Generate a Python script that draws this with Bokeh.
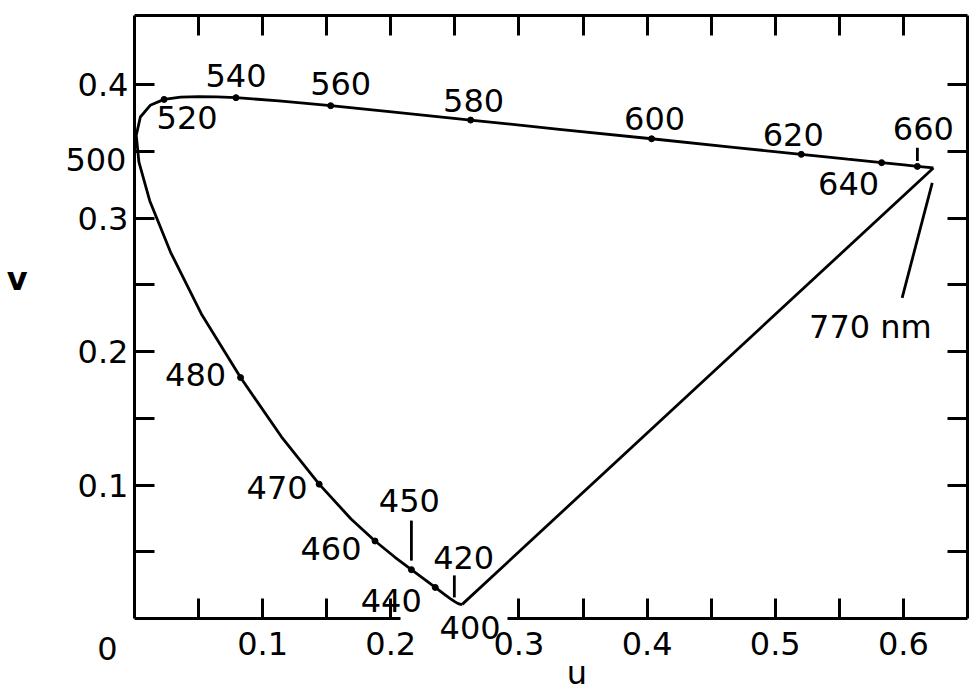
from bokeh.plotting import figure
from bokeh.models import (LinearAxis, FixedTicker, Label, LabelSet, Range1d,
                          ColumnDataSource, CustomLabelingPolicy)
from bokeh.core.properties import value
from bokeh.embed import file_html
from bokeh.resources import INLINE

# ---- data: CIE 1960 UCS spectral locus (u, v) ----
wavelength = [400, 410, 420, 425, 430, 435, 440, 445, 450, 455, 460, 465, 470,
              475, 480, 485, 490, 495, 500, 505, 510, 515, 520, 525, 530, 535,
              540, 550, 560, 570, 580, 590, 600, 610, 620, 630, 640, 650, 660, 770]
u = [0.2557, 0.2545, 0.2522, 0.2496, 0.2461, 0.2411, 0.2347, 0.2266, 0.2161,
     0.2033, 0.1877, 0.1690, 0.1441, 0.1147, 0.0828, 0.0521, 0.0282, 0.0119,
     0.0035, 0.0014, 0.0046, 0.0123, 0.0231, 0.0360, 0.0501, 0.0643, 0.0792,
     0.1127, 0.1531, 0.2026, 0.2623, 0.3315, 0.4035, 0.4692, 0.5203, 0.5565,
     0.5830, 0.6005, 0.6109, 0.6234]
v = [0.0106, 0.0106, 0.0113, 0.0128, 0.0151, 0.0186, 0.0233, 0.0291, 0.0366,
     0.0459, 0.0581, 0.0746, 0.1007, 0.1362, 0.1806, 0.2285, 0.2745, 0.3132,
     0.3420, 0.3621, 0.3759, 0.3847, 0.3891, 0.3908, 0.3912, 0.3910, 0.3904,
     0.3880, 0.3844, 0.3796, 0.3736, 0.3667, 0.3596, 0.3530, 0.3479, 0.3443,
     0.3417, 0.3400, 0.3389, 0.3377]

marked_wl = [440, 450, 460, 470, 480, 520, 540, 560, 580, 600, 620, 640, 660]
labelled_wl = [400, 420, 440, 450, 460, 470, 480, 500, 520, 540, 560, 580,
               600, 620, 640, 660]
end_label = "770 nm"

U_MAX = 0.65
V_MAX = 0.452
x_major_a = [0.1, 0.2]
x_minor_a = [0.05, 0.15]
x_major_b = [0.3, 0.4, 0.5, 0.6]
x_minor_b = [0.35, 0.45, 0.55]
x_top_ticks = [0.05, 0.1, 0.15, 0.2, 0.25, 0.3, 0.35, 0.4, 0.45, 0.5, 0.55, 0.6]
y_major = [0.1, 0.2, 0.3, 0.4]
y_minor = [0.05, 0.15, 0.25, 0.35]
y_right_ticks = [0.05, 0.1, 0.15, 0.2, 0.25, 0.3, 0.35, 0.4]

# ---- layout / style ----
label_offsets = {  # (dx right, dy up) in screen pixels from the locus point
    400: (8, -23), 420: (6, 46), 440: (-44, -13), 450: (-2, 69),
    460: (-44, -8), 470: (-42, -3), 480: (-45, 3), 500: (-43, 3),
    520: (23, -18), 540: (0, 22), 560: (10, 22), 580: (3, 20),
    600: (3, 20), 620: (-8, 20), 640: (-33, -21), 660: (6, 38),
}
FONT = "DejaVu Sans"
FS = "32px"
LW = 2.8

idx = {w: i for i, w in enumerate(wavelength)}

# the viewport extends past the axes box so that every text can be drawn
p = figure(width=969, height=690, output_backend="svg", toolbar_location=None,
           x_range=Range1d(-0.10452, 0.65156), y_range=Range1d(-0.05397, 0.46324),
           x_axis_location=None, y_axis_location=None, min_border=0)
p.grid.visible = False
p.outline_line_color = None
p.background_fill_color = "white"
p.border_fill_color = "white"

HIDE_LABELS = "for (const i of indices) { indices.unset(i) }\nreturn indices"


def make_axis(loc, bounds, major, minor=(), labels=True, standoff=0):
    ax = LinearAxis(fixed_location=loc, bounds=bounds,
                    ticker=FixedTicker(ticks=list(major), minor_ticks=list(minor)))
    ax.axis_line_width = 3
    ax.axis_line_color = "black"
    ax.major_tick_line_width = 3
    ax.major_tick_in = 20
    ax.major_tick_out = 0
    ax.minor_tick_line_width = 3
    ax.minor_tick_in = 20
    ax.minor_tick_out = 0
    ax.major_label_text_font = FONT
    ax.major_label_text_font_size = FS
    ax.major_label_text_color = "black"
    ax.major_label_standoff = standoff
    if not labels:
        ax.major_label_policy = CustomLabelingPolicy(code=HIDE_LABELS)
    return ax


def title_axis(loc, bounds, text, standoff, style):
    ax = LinearAxis(fixed_location=loc, bounds=bounds,
                    ticker=FixedTicker(ticks=[]), axis_label=text)
    ax.axis_line_color = None
    ax.major_tick_line_color = None
    ax.minor_tick_line_color = None
    ax.major_label_policy = CustomLabelingPolicy(code=HIDE_LABELS)
    ax.axis_label_text_font = FONT
    ax.axis_label_text_font_size = FS
    ax.axis_label_text_font_style = style
    ax.axis_label_text_color = "black"
    ax.axis_label_standoff = standoff
    return ax


# bottom axis, broken where the 400 nm label sits
p.add_layout(make_axis(0, (0, 0.2075), x_major_a, x_minor_a, standoff=14), "below")
p.add_layout(make_axis(0, (0.291, U_MAX), x_major_b, x_minor_b, standoff=14), "below")
p.add_layout(make_axis(0, (0, V_MAX), y_major, y_minor, standoff=6), "left")
p.add_layout(make_axis(V_MAX, (0, U_MAX), x_top_ticks, labels=False), "above")
p.add_layout(make_axis(U_MAX, (0, V_MAX), y_right_ticks, labels=False), "right")

ax_u = title_axis(0, (0.041, U_MAX), "u", 35, "normal")
p.add_layout(ax_u, "below")
ax_v = title_axis(0, (0.058, V_MAX), "v", 107, "bold")
ax_v.axis_label_orientation = "horizontal"
p.add_layout(ax_v, "left")

# spectral locus
p.line(u, v, line_color="black", line_width=LW)
# purple line 400 -> 770
p.line([u[0], u[-1]], [v[0], v[-1]], line_color="black", line_width=LW)

# marked points
mu = [u[idx[w]] for w in marked_wl]
mv = [v[idx[w]] for w in marked_wl]
p.scatter(mu, mv, size=6, color="black")

# leader ticks (offsets in data units from the locus point)
leaders = {450: (0.0, 0.0068, 0.0, 0.0368), 420: (-0.0026, 0.0045, -0.0026, 0.021),
           660: (0.0, 0.004, 0.0, 0.014), 770: (-0.0009, -0.0111, -0.0244, -0.0973)}
x0 = [u[idx[w]] + d[0] for w, d in leaders.items()]
y0 = [v[idx[w]] + d[1] for w, d in leaders.items()]
x1 = [u[idx[w]] + d[2] for w, d in leaders.items()]
y1 = [v[idx[w]] + d[3] for w, d in leaders.items()]
p.segment(x0, y0, x1, y1, line_color="black", line_width=LW)

src = ColumnDataSource(dict(
    x=[u[idx[w]] for w in labelled_wl],
    y=[v[idx[w]] for w in labelled_wl],
    text=[str(w) for w in labelled_wl],
    xo=[label_offsets[w][0] for w in labelled_wl],
    yo=[label_offsets[w][1] for w in labelled_wl],
))
p.add_layout(LabelSet(x="x", y="y", text="text", source=src,
                      x_offset="xo", y_offset="yo",
                      text_align="center", text_baseline="middle",
                      text_font=value(FONT), text_font_size=value(FS),
                      text_color="black"))

p.add_layout(Label(x=u[-1], y=v[-1], text=end_label, x_offset=-63, y_offset=-159,
                   text_align="center", text_baseline="middle",
                   text_font=FONT, text_font_size=FS, text_color="black"))
# shared origin label
p.add_layout(Label(x=0, y=0, text="0", x_offset=-27, y_offset=-30,
                   text_align="center", text_baseline="middle",
                   text_font=FONT, text_font_size=FS, text_color="black"))

open("out.html", "w").write(file_html(p, INLINE))
